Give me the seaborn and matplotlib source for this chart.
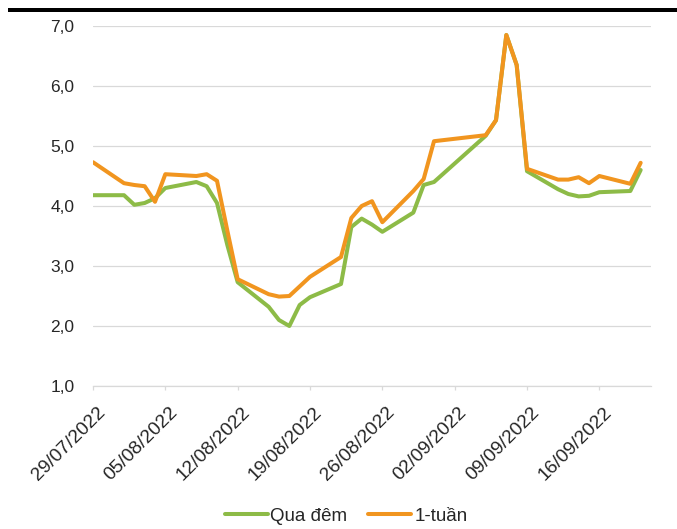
import matplotlib
matplotlib.use("Agg")
import matplotlib.pyplot as plt
import matplotlib.transforms as mtransforms
from matplotlib.patches import Rectangle
from matplotlib.lines import Line2D
import seaborn as sns
import pandas as pd

dates = ["2022-07-29", "2022-08-01", "2022-08-02", "2022-08-03", "2022-08-04", "2022-08-05",
         "2022-08-08", "2022-08-09", "2022-08-10", "2022-08-11", "2022-08-12",
         "2022-08-15", "2022-08-16", "2022-08-17", "2022-08-18", "2022-08-19",
         "2022-08-22", "2022-08-23", "2022-08-24", "2022-08-25", "2022-08-26",
         "2022-08-29", "2022-08-30", "2022-08-31",
         "2022-09-05", "2022-09-06", "2022-09-07", "2022-09-08", "2022-09-09",
         "2022-09-12", "2022-09-13", "2022-09-14", "2022-09-15", "2022-09-16",
         "2022-09-19", "2022-09-20"]

qua_dem = [4.18, 4.18, 4.02, 4.05, 4.13, 4.30,
           4.40, 4.33, 4.05, 3.35, 2.73,
           2.32, 2.10, 2.00, 2.35, 2.48,
           2.70, 3.65, 3.79, 3.69, 3.57,
           3.89, 4.35, 4.40,
           5.17, 5.43, 6.85, 6.35, 4.58,
           4.28, 4.20, 4.16, 4.17, 4.23,
           4.25, 4.60]

mot_tuan = [4.73, 4.38, 4.35, 4.33, 4.07, 4.53,
            4.50, 4.53, 4.42, 3.59, 2.78,
            2.53, 2.49, 2.50, 2.66, 2.82,
            3.15, 3.80, 4.00, 4.08, 3.73,
            4.25, 4.45, 5.08,
            5.18, 5.43, 6.85, 6.35, 4.62,
            4.44, 4.44, 4.48, 4.38, 4.50,
            4.37, 4.72]

series_names = ["Qua đêm", "1-tuần"]
tick_dates = ["2022-07-29", "2022-08-05", "2022-08-12", "2022-08-19",
              "2022-08-26", "2022-09-02", "2022-09-09", "2022-09-16"]
tick_labels = ["29/07/2022", "05/08/2022", "12/08/2022", "19/08/2022",
               "26/08/2022", "02/09/2022", "09/09/2022", "16/09/2022"]
y_ticks = [1, 2, 3, 4, 5, 6, 7]

colors = {"Qua đêm": "#8DBB47", "1-tuần": "#F1951F"}

df = pd.concat([
    pd.DataFrame({"date": pd.to_datetime(dates), "value": qua_dem, "series": series_names[0]}),
    pd.DataFrame({"date": pd.to_datetime(dates), "value": mot_tuan, "series": series_names[1]}),
], ignore_index=True)

sns.set_theme(style="white")
plt.rcParams["font.family"] = ["Liberation Sans", "DejaVu Sans"]

fig = plt.figure(figsize=(6.77, 5.29), dpi=100)
ax = fig.add_axes([93 / 677, 1 - 386 / 529, (651 - 93) / 677, (386 - 26) / 529])

sns.lineplot(data=df, x="date", y="value", hue="series", palette=colors,
             hue_order=series_names, linewidth=2.9, ax=ax, legend=False,
             estimator=None, sort=True)

ax.set_xlim(pd.Timestamp("2022-07-29"), pd.Timestamp("2022-09-21"))
ax.set_ylim(1, 7)
ax.set_yticks(y_ticks)
ax.set_yticklabels([f"{v:.1f}".replace(".", ",") for v in y_ticks])
ax.set_xticks(pd.to_datetime(tick_dates))
ax.set_xticklabels(tick_labels)
ax.set_xlabel("")
ax.set_ylabel("")

ax.grid(axis="y", color="#D9D9D9", linewidth=0.9)
ax.set_axisbelow(True)
for s in ["left", "right", "top"]:
    ax.spines[s].set_visible(False)
ax.spines["bottom"].set_color("#D9D9D9")
ax.spines["bottom"].set_linewidth(0.9)

ax.tick_params(axis="y", length=0, pad=13.5, labelsize=12.5, labelcolor="#262626")
ax.tick_params(axis="x", bottom=True, length=3, width=0.9, color="#D9D9D9",
               direction="out", pad=14, labelsize=13.8, labelcolor="#262626")

offset = mtransforms.ScaledTranslation(9.5 / 100, 0, fig.dpi_scale_trans)
for lab in ax.get_xticklabels():
    lab.set_rotation(45)
    lab.set_ha("right")
    lab.set_va("center")
    lab.set_rotation_mode("anchor")
    lab.set_transform(lab.get_transform() + offset)

handles = [Line2D([0], [0], color=colors[n], linewidth=2.9) for n in series_names]
fig.legend(handles, series_names, loc="center", bbox_to_anchor=(346 / 677, 1 - 516 / 529),
           ncol=2, frameon=False, fontsize=13.5, handlelength=2.3, handletextpad=0.15,
           columnspacing=1.1, labelcolor="#262626")

fig.add_artist(Rectangle((8 / 677, 1 - 12 / 529), (677 - 8) / 677, 4 / 529,
                         transform=fig.transFigure, color="black", linewidth=0))

fig.savefig("out.png", dpi=100)
